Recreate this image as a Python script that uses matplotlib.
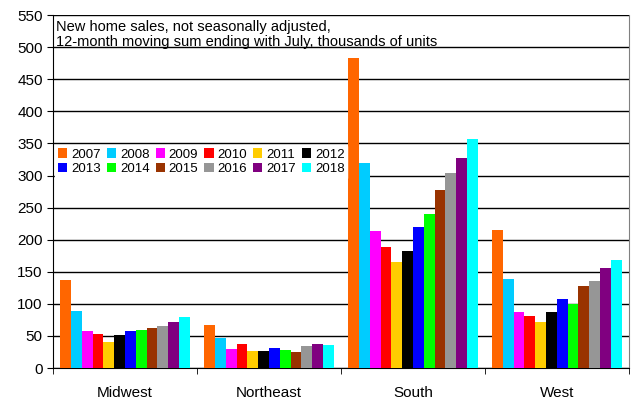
import numpy as np
from matplotlib import pyplot as plt

plt.rcParams['font.family'] = ['Liberation Sans', 'DejaVu Sans']

regions = ['Midwest', 'Northeast', 'South', 'West']
years = ['2007', '2008', '2009', '2010', '2011', '2012',
         '2013', '2014', '2015', '2016', '2017', '2018']
colors = ['#FF6600', '#00CCFF', '#FF00FF', '#FF0000', '#FFCC00', '#000000',
          '#0000FF', '#00FF00', '#993300', '#969696', '#800080', '#00FFFF']

# thousands of units, one list per region (2007..2018)
midwest = [137, 89, 57, 53, 41, 52, 57, 60, 62, 66, 71, 79]
northeast = [67, 46, 30, 37, 27, 27, 31, 28, 25, 34, 37, 36]
south = [484, 320, 213, 189, 165, 183, 220, 240, 277, 304, 328, 357]
west = [215, 138, 88, 81, 71, 87, 108, 99, 128, 135, 156, 169]

data = np.array([midwest, northeast, south, west])

fig, ax = plt.subplots(figsize=(6.32, 4.0), dpi=100)
fig.subplots_adjust(left=0.084, right=0.995, top=0.962, bottom=0.08)

centers = np.arange(len(regions)) + 0.5
w = 0.9 / len(years)
bars = []
for j, yr in enumerate(years):
    b = ax.bar(centers + (j - 5.5) * w, data[:, j], width=w, color=colors[j],
               label=yr, zorder=3)
    bars.append(b)

ax.set_xlim(0, 4)
ax.set_ylim(0, 550)
ax.set_yticks(np.arange(0, 551, 50))
ax.yaxis.grid(True, color='black', linewidth=1, zorder=0)
ax.set_xticks(centers)
ax.set_xticklabels(regions, fontsize=11)
ax.set_xticks(np.arange(0, 5), minor=True)
ax.tick_params(axis='x', which='major', length=0, pad=13)
ax.tick_params(axis='x', which='minor', length=4, direction='out')
ax.tick_params(axis='y', labelsize=11, length=4, direction='out')
ax.spines['top'].set_visible(False)
ax.spines['right'].set_color('#808080')

ax.text(0.02, 543, 'New home sales, not seasonally adjusted,\n'
        '12-month moving sum ending with July, thousands of units',
        fontsize=10.5, va='top', ha='left', linespacing=1.15, zorder=4)

# legend fills rows first: 2007..2012 on top, 2013..2018 below
order = [0, 6, 1, 7, 2, 8, 3, 9, 4, 10, 5, 11]
leg = ax.legend([bars[i] for i in order], [years[i] for i in order],
                ncol=6, loc='upper left', bbox_to_anchor=(0.004, 0.63),
                fontsize=9.5, frameon=True, handlelength=0.7, handleheight=0.7,
                handletextpad=0.3, columnspacing=0.45, labelspacing=0.2,
                borderpad=0.2, borderaxespad=0, fancybox=False)
leg.get_frame().set_edgecolor('white')
leg.get_frame().set_alpha(1)

plt.savefig('out.png')
